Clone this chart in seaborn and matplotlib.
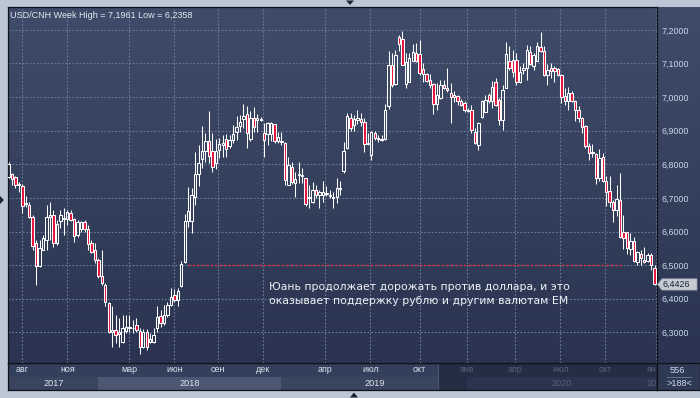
import numpy as np
import pandas as pd
import matplotlib
matplotlib.use("Agg")
import matplotlib.pyplot as plt
import seaborn as sns
from matplotlib.patches import Polygon
from matplotlib.colors import LinearSegmentedColormap
from matplotlib.transforms import blended_transform_factory

# weekly USD/CNH bars (188 bars)
opens = [
    6.763, 6.771, 6.762, 6.737, 6.736, 6.682, 6.679, 6.644, 6.565, 6.496,
    6.545, 6.575, 6.644, 6.649, 6.565, 6.630, 6.637, 6.637, 6.656, 6.637,
    6.590, 6.607, 6.627, 6.607, 6.565, 6.545, 6.515, 6.468, 6.441, 6.387,
    6.300, 6.307, 6.300, 6.272, 6.304, 6.314, 6.312, 6.322, 6.305, 6.257,
    6.302, 6.272, 6.272, 6.312, 6.349, 6.329, 6.352, 6.381, 6.411, 6.396,
    6.438, 6.509, 6.630, 6.630, 6.702, 6.771, 6.815, 6.841, 6.868, 6.840,
    6.803, 6.843, 6.856, 6.875, 6.853, 6.872, 6.897, 6.914, 6.934, 6.950,
    6.875, 6.937, 6.932, 6.932, 6.894, 6.889, 6.889, 6.919, 6.868, 6.868,
    6.863, 6.739, 6.793, 6.744, 6.769, 6.768, 6.758, 6.701, 6.689, 6.724,
    6.709, 6.710, 6.712, 6.706, 6.704, 6.704, 6.728, 6.780, 6.848, 6.939,
    6.917, 6.932, 6.934, 6.927, 6.860, 6.828, 6.893, 6.877, 6.871, 6.875,
    6.974, 7.096, 7.038, 7.180, 7.173, 7.038, 7.046, 7.108, 7.130, 7.128,
    7.084, 7.069, 7.051, 7.038, 6.979, 6.997, 7.036, 7.026, 7.012, 7.005,
    7.002, 6.989, 6.982, 6.962, 6.962, 6.897, 6.858, 6.942, 6.957, 7.007,
    6.987, 7.044, 6.992, 6.932, 7.028, 7.106, 7.111, 7.111, 7.044, 7.081,
    7.088, 7.133, 7.091, 7.108, 7.150, 7.137, 7.066, 7.086, 7.088, 7.083,
    7.066, 7.002, 6.987, 7.012, 6.987, 6.962, 6.937, 6.915, 6.853, 6.838,
    6.830, 6.760, 6.823, 6.751, 6.721, 6.689, 6.664, 6.694, 6.598, 6.598,
    6.548, 6.572, 6.509, 6.532, 6.515, 6.511, 6.530, 6.493,
]
highs = [
    6.808, 6.775, 6.765, 6.746, 6.741, 6.706, 6.689, 6.649, 6.575, 6.575,
    6.590, 6.679, 6.689, 6.664, 6.635, 6.664, 6.669, 6.664, 6.664, 6.639,
    6.635, 6.630, 6.635, 6.620, 6.575, 6.565, 6.520, 6.545, 6.446, 6.389,
    6.377, 6.352, 6.342, 6.352, 6.352, 6.352, 6.337, 6.342, 6.312, 6.309,
    6.309, 6.297, 6.312, 6.377, 6.367, 6.381, 6.391, 6.431, 6.428, 6.433,
    6.511, 6.651, 6.732, 6.729, 6.838, 6.858, 6.914, 6.892, 6.959, 6.894,
    6.876, 6.878, 6.888, 6.889, 6.887, 6.917, 6.944, 6.947, 6.979, 6.972,
    6.959, 6.970, 6.950, 6.940, 6.924, 6.925, 6.925, 6.921, 6.897, 6.895,
    6.866, 6.823, 6.808, 6.778, 6.808, 6.790, 6.760, 6.739, 6.747, 6.739,
    6.724, 6.751, 6.734, 6.724, 6.719, 6.758, 6.750, 6.866, 6.952, 6.952,
    6.947, 6.962, 6.952, 6.937, 6.892, 6.900, 6.898, 6.888, 6.888, 6.980,
    7.137, 7.130, 7.140, 7.185, 7.196, 7.130, 7.130, 7.157, 7.160, 7.170,
    7.101, 7.071, 7.068, 7.041, 7.041, 7.051, 7.051, 7.086, 7.041, 7.017,
    7.007, 6.995, 6.989, 6.967, 6.977, 6.907, 6.927, 6.992, 7.007, 7.012,
    7.048, 7.058, 6.997, 7.036, 7.165, 7.153, 7.140, 7.130, 7.091, 7.101,
    7.155, 7.153, 7.130, 7.163, 7.195, 7.153, 7.098, 7.101, 7.091, 7.086,
    7.068, 7.028, 7.031, 7.017, 6.992, 6.972, 6.942, 6.917, 6.863, 6.860,
    6.833, 6.846, 6.833, 6.764, 6.766, 6.694, 6.739, 6.773, 6.650, 6.600,
    6.595, 6.585, 6.542, 6.545, 6.555, 6.535, 6.535, 6.499,
]
lows = [
    6.758, 6.739, 6.729, 6.719, 6.654, 6.674, 6.639, 6.545, 6.441, 6.494,
    6.545, 6.545, 6.575, 6.555, 6.560, 6.610, 6.590, 6.620, 6.630, 6.570,
    6.585, 6.600, 6.600, 6.545, 6.535, 6.506, 6.461, 6.441, 6.377, 6.297,
    6.257, 6.267, 6.257, 6.267, 6.298, 6.302, 6.297, 6.302, 6.236, 6.253,
    6.248, 6.267, 6.269, 6.302, 6.317, 6.322, 6.347, 6.377, 6.391, 6.379,
    6.436, 6.505, 6.613, 6.597, 6.679, 6.734, 6.790, 6.808, 6.803, 6.778,
    6.785, 6.818, 6.823, 6.823, 6.848, 6.863, 6.873, 6.897, 6.907, 6.850,
    6.868, 6.897, 6.897, 6.930, 6.823, 6.858, 6.870, 6.863, 6.863, 6.858,
    6.739, 6.739, 6.741, 6.702, 6.744, 6.744, 6.676, 6.669, 6.684, 6.699,
    6.669, 6.689, 6.707, 6.699, 6.671, 6.684, 6.708, 6.773, 6.846, 6.898,
    6.899, 6.919, 6.915, 6.836, 6.856, 6.813, 6.873, 6.866, 6.868, 6.873,
    6.965, 7.031, 7.036, 7.137, 7.094, 7.028, 7.044, 7.106, 7.104, 7.066,
    7.046, 7.044, 7.028, 6.949, 6.962, 6.995, 7.024, 7.016, 6.922, 6.985,
    6.977, 6.972, 6.957, 6.955, 6.892, 6.860, 6.843, 6.937, 6.955, 6.982,
    6.967, 6.972, 6.917, 6.902, 7.026, 7.081, 7.061, 7.036, 7.041, 7.068,
    7.051, 7.096, 7.081, 7.106, 7.135, 7.064, 7.036, 7.056, 7.044, 7.064,
    6.982, 6.977, 6.962, 6.985, 6.929, 6.927, 6.893, 6.850, 6.813, 6.823,
    6.741, 6.749, 6.747, 6.677, 6.674, 6.628, 6.647, 6.580, 6.548, 6.532,
    6.530, 6.509, 6.499, 6.501, 6.506, 6.509, 6.486, 6.441,
]
closes = [
    6.800, 6.757, 6.739, 6.741, 6.676, 6.684, 6.644, 6.558, 6.496, 6.550,
    6.580, 6.644, 6.649, 6.565, 6.623, 6.649, 6.639, 6.659, 6.635, 6.587,
    6.627, 6.627, 6.607, 6.563, 6.540, 6.514, 6.468, 6.446, 6.389, 6.302,
    6.307, 6.292, 6.296, 6.314, 6.316, 6.317, 6.314, 6.307, 6.257, 6.302,
    6.257, 6.279, 6.292, 6.347, 6.327, 6.352, 6.381, 6.406, 6.396, 6.423,
    6.504, 6.630, 6.661, 6.709, 6.771, 6.805, 6.840, 6.868, 6.825, 6.791,
    6.840, 6.861, 6.863, 6.846, 6.871, 6.889, 6.911, 6.927, 6.945, 6.892,
    6.939, 6.910, 6.937, 6.936, 6.871, 6.922, 6.922, 6.868, 6.880, 6.865,
    6.754, 6.798, 6.747, 6.756, 6.771, 6.765, 6.681, 6.702, 6.724, 6.709,
    6.719, 6.718, 6.716, 6.709, 6.699, 6.729, 6.731, 6.840, 6.945, 6.907,
    6.934, 6.939, 6.925, 6.860, 6.864, 6.895, 6.878, 6.874, 6.874, 6.962,
    7.096, 7.036, 7.126, 7.157, 7.096, 7.104, 7.116, 7.133, 7.108, 7.071,
    7.068, 7.048, 7.036, 6.979, 7.005, 7.036, 7.026, 7.021, 6.999, 6.999,
    6.989, 6.977, 6.962, 6.959, 6.902, 6.863, 6.922, 6.989, 6.992, 6.987,
    7.031, 6.977, 6.932, 7.021, 7.128, 7.086, 7.076, 7.044, 7.074, 7.088,
    7.140, 7.098, 7.126, 7.153, 7.137, 7.066, 7.081, 7.078, 7.078, 7.066,
    6.999, 6.987, 7.012, 6.987, 6.962, 6.937, 6.912, 6.853, 6.833, 6.833,
    6.760, 6.818, 6.749, 6.719, 6.689, 6.664, 6.697, 6.585, 6.582, 6.550,
    6.572, 6.511, 6.538, 6.522, 6.508, 6.530, 6.499, 6.4426,
]

price_ticks = [6.3, 6.4, 6.5, 6.6, 6.7, 6.8, 6.9, 7.0, 7.1, 7.2]
month_labels = ["авг", "ноя", "мар", "июн", "сен", "дек", "апр",
                "июл", "окт", "янв", "апр", "июл", "окт", "ян"]
month_bars = [4.0, 17.0, 35.0, 48.0, 60.7, 73.7, 91.6,
              104.7, 119.0, 132.8, 146.7, 159.7, 172.7, 187.3]
year_labels = ["2017", "2018", "2019", "2020", "20"]
year_bars = [13.0, 52.5, 105.9, 160.0, 187.6]
year_bounds = [-1.0, 26.0, 79.0, 132.8, 187.3, 200.0]
support_level = 6.5
support_bars = (52, 178)
title = "USD/CNH Week High = 7,1961 Low = 6,2358"
note = ["Юань продолжает дорожать против доллара, и это",
        "оказывает поддержку рублю и другим валютам EM"]

sns.set_theme(style="dark")
plt.rcParams["font.family"] = ["Liberation Sans", "DejaVu Sans"]

df = pd.DataFrame({"open": opens, "high": highs, "low": lows, "close": closes})
df["bar"] = np.arange(len(df))
df["up"] = df["close"] >= df["open"]
df["lo"] = df[["open", "close"]].min(axis=1)
df["hi"] = df[["open", "close"]].max(axis=1)
df["h"] = (df["hi"] - df["lo"]).clip(lower=0.0018)

FRAME = "#bcc7d6"
RED = "#e5153d"
GRID = "#6a7998"
LABEL = "#cdd8ec"
EDGE = "#0e121a"

W, H = 700, 398
fig = plt.figure(figsize=(7, 3.98), dpi=100, facecolor=FRAME)


def box(x0, y0, x1, y1):
    return [x0 / W, 1 - y1 / H, (x1 - x0) / W, (y1 - y0) / H]


ax_r = fig.add_axes(box(657, 7, 700, 363), zorder=0)
ax = fig.add_axes(box(8, 7, 657, 363), zorder=2)
ax_b = fig.add_axes(box(8, 363, 657, 390), zorder=1)
ax_c = fig.add_axes(box(657, 363, 700, 390), zorder=1)

xlim = (-0.15, 187.7)
ylim = (6.2089, 7.268)
bg = LinearSegmentedColormap.from_list("bg", ["#2a3450", "#3f4c69"])
grad = np.linspace(0, 1, 256).reshape(-1, 1)

# main panel
ax.imshow(grad, extent=[*xlim, *ylim], origin="lower", aspect="auto",
          cmap=bg, zorder=0)
ax.hlines(price_ticks, *xlim, colors=GRID, lw=0.8, linestyles=(0, (1.6, 1.6)), zorder=1)
ax.vlines(month_bars, *ylim, colors=GRID, lw=0.8, linestyles=(0, (1.6, 1.6)), zorder=1)
ax.hlines(support_level, *support_bars, colors="#dc2a3e", lw=1.0,
          linestyles=(0, (1.6, 1.6)), zorder=1.5)

ax.vlines(df["bar"], df["hi"], df["high"], colors="white", lw=0.75, zorder=3)
ax.vlines(df["bar"], df["low"], df["lo"], colors="white", lw=0.75, zorder=3)
up = df[df["up"]]
dn = df[~df["up"]]
ax.bar(up["bar"], up["h"], bottom=up["lo"], width=0.7, facecolor="none",
       edgecolor="white", lw=0.75, zorder=4)
ax.bar(dn["bar"], dn["h"], bottom=dn["lo"], width=0.7, facecolor=RED,
       edgecolor="white", lw=0.75, zorder=4)

ax.set_xlim(*xlim)
ax.set_ylim(*ylim)
ax.set_xticks([])
ax.yaxis.tick_right()
ax.set_yticks(price_ticks)
ax.set_yticklabels([f"{v:.4f}".replace(".", ",") for v in price_ticks])
ax.tick_params(axis="y", length=0, pad=3.5, labelsize=6.4, labelcolor=LABEL)
for s in ax.spines.values():
    s.set_color(EDGE)
    s.set_linewidth(0.9)
ax.grid(False)

# right price panel
ax_r.imshow(grad, extent=[0, 1, 0, 1], origin="lower", aspect="auto", cmap=bg)
ax_r.set_xlim(0, 1)
ax_r.set_ylim(0, 1)
ax_r.axis("off")

# last price tag
last = closes[-1]
tr = blended_transform_factory(fig.transFigure, ax.transData)
hh = 0.0168
tag = Polygon([(657.5 / W, last), (662 / W, last + hh), (697 / W, last + hh),
               (697 / W, last - hh), (662 / W, last - hh)],
              closed=True, transform=tr, facecolor="#c6cad3",
              edgecolor="#9aa0ab", lw=0.5, clip_on=False, zorder=10)
ax.add_patch(tag)
ax.text(662.5 / W, last, f"{last:.4f}".replace(".", ","), transform=tr,
        fontsize=6.4, color="#1b2232", va="center", ha="left",
        clip_on=False, zorder=11)

# bottom time panel
ax_b.set_xlim(*xlim)
ax_b.set_ylim(0, 2)
ax_b.set_facecolor("#33405c")
ax_b.axhspan(0, 1, color="#39455f", lw=0)
for i in range(len(year_labels)):
    if i % 2 == 1:
        ax_b.axvspan(year_bounds[i], year_bounds[i + 1], ymin=0, ymax=0.5,
                     color="#4b5773", lw=0)
dim_from = 124.3
ax_b.axvspan(dim_from, 200, color="#242d44", lw=0)
ax_b.axvspan(year_bounds[3], year_bounds[4], ymin=0, ymax=0.5,
             color="#2b344e", lw=0)
ax_b.axvline(dim_from, color="#4a5570", lw=0.8)
for pos, lab in zip(month_bars, month_labels):
    c = "#dde3ee" if pos < dim_from else "#56627b"
    ha = "right" if pos > xlim[1] - 1 else "center"
    x = xlim[1] - 0.1 if ha == "right" else pos
    ax_b.text(x, 1.5, lab, ha=ha, va="center", fontsize=6.4,
              color=c, clip_on=True)
for pos, lab in zip(year_bars, year_labels):
    c = "#dde3ee" if pos < dim_from else "#56627b"
    ha = "right" if pos > xlim[1] - 1 else "center"
    x = xlim[1] - 0.1 if ha == "right" else pos
    ax_b.text(x, 0.48, lab, ha=ha, va="center", fontsize=6.6,
              color=c, clip_on=True)
ax_b.set_xticks([])
ax_b.set_yticks([])
for s in ax_b.spines.values():
    s.set_color(EDGE)
    s.set_linewidth(0.9)

# bar count box
ax_c.set_facecolor("#2e3954")
ax_c.set_xlim(0, 1)
ax_c.set_ylim(0, 1)
ax_c.text(0.48, 0.74, "556", ha="center", va="center", fontsize=6.6, color=LABEL)
ax_c.text(0.52, 0.24, ">188<", ha="center", va="center", fontsize=6.6, color=LABEL)
ax_c.plot([0.24, 0.78], [0.5, 0.5], color="#66728c", lw=0.7)
ax_c.set_xticks([])
ax_c.set_yticks([])
for s in ax_c.spines.values():
    s.set_color(EDGE)
    s.set_linewidth(0.9)

# texts
fig.text(10 / W, 1 - 15.5 / H, title, fontsize=6.5, color="#e3e8f0",
         va="center", ha="left", zorder=20)
for k, line in enumerate(note):
    fig.text(269 / W, 1 - (287.5 + 13 * k) / H, line, fontsize=7.8,
             family="DejaVu Sans", color="#eef1f6", va="center", ha="left",
             zorder=20)

# small frame markers
marks = [[(346, 0.5), (354, 0.5), (350, 5)],
         [(350, 397.5), (358, 397.5), (354, 392.5)],
         [(0, 196), (0, 204), (4, 200)]]
for pts in marks:
    fig.add_artist(Polygon([(x / W, 1 - y / H) for x, y in pts], closed=True,
                           transform=fig.transFigure, facecolor="#1c2333",
                           edgecolor="none"))

fig.savefig("out.png", dpi=100, facecolor=FRAME)
